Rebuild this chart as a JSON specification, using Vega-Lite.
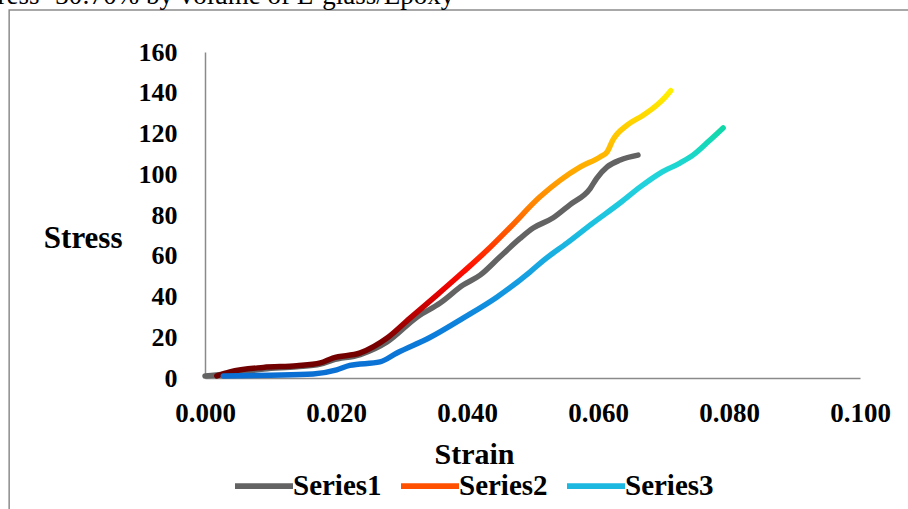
{
  "$schema": "https://vega.github.io/schema/vega-lite/v6.json",
  "width": 655,
  "height": 326,
  "autosize": {"type": "none"},
  "padding": {"left": 205, "top": 52, "right": 48, "bottom": 131},
  "background": "white",
  "config": {
    "view": {"stroke": null},
    "axis": {
      "grid": false,
      "ticks": false,
      "domainColor": "#8a8a8a",
      "domainWidth": 1.5,
      "labelFont": "Liberation Serif",
      "labelFontWeight": "bold",
      "labelColor": "black",
      "titleFont": "Liberation Serif",
      "titleFontWeight": "bold",
      "titleColor": "black",
      "titleFontSize": 30
    }
  },
  "data": {
    "values": [
      {"series": "Series1", "strain": 0.0, "stress": 1.0},
      {"series": "Series1", "strain": 0.003, "stress": 1.8},
      {"series": "Series1", "strain": 0.009, "stress": 4.4},
      {"series": "Series1", "strain": 0.014, "stress": 5.5},
      {"series": "Series1", "strain": 0.0176, "stress": 6.8},
      {"series": "Series1", "strain": 0.0195, "stress": 8.8},
      {"series": "Series1", "strain": 0.0237, "stress": 11.5},
      {"series": "Series1", "strain": 0.0278, "stress": 17.7},
      {"series": "Series1", "strain": 0.0324, "stress": 30.0},
      {"series": "Series1", "strain": 0.0359, "stress": 36.8},
      {"series": "Series1", "strain": 0.0394, "stress": 45.6},
      {"series": "Series1", "strain": 0.042, "stress": 50.5},
      {"series": "Series1", "strain": 0.045, "stress": 59.4},
      {"series": "Series1", "strain": 0.0481, "stress": 68.5},
      {"series": "Series1", "strain": 0.0501, "stress": 73.6},
      {"series": "Series1", "strain": 0.0531, "stress": 78.5},
      {"series": "Series1", "strain": 0.0557, "stress": 85.0},
      {"series": "Series1", "strain": 0.0588, "stress": 93.0},
      {"series": "Series1", "strain": 0.0598, "stress": 98.0},
      {"series": "Series1", "strain": 0.0614, "stress": 103.6},
      {"series": "Series1", "strain": 0.0634, "stress": 107.0},
      {"series": "Series1", "strain": 0.0661, "stress": 109.4},

      {"series": "Series2", "strain": 0.0018, "stress": 1.0},
      {"series": "Series2", "strain": 0.0038, "stress": 3.0},
      {"series": "Series2", "strain": 0.0089, "stress": 5.2},
      {"series": "Series2", "strain": 0.014, "stress": 6.0},
      {"series": "Series2", "strain": 0.0176, "stress": 7.4},
      {"series": "Series2", "strain": 0.0195, "stress": 9.8},
      {"series": "Series2", "strain": 0.0237, "stress": 12.3},
      {"series": "Series2", "strain": 0.0278, "stress": 19.6},
      {"series": "Series2", "strain": 0.0313, "stress": 29.4},
      {"series": "Series2", "strain": 0.0354, "stress": 40.7},
      {"series": "Series2", "strain": 0.0394, "stress": 52.0},
      {"series": "Series2", "strain": 0.0431, "stress": 62.8},
      {"series": "Series2", "strain": 0.0466, "stress": 74.0},
      {"series": "Series2", "strain": 0.0511, "stress": 88.8},
      {"series": "Series2", "strain": 0.0542, "stress": 97.0},
      {"series": "Series2", "strain": 0.0573, "stress": 103.6},
      {"series": "Series2", "strain": 0.0603, "stress": 108.5},
      {"series": "Series2", "strain": 0.0614, "stress": 111.0},
      {"series": "Series2", "strain": 0.0623, "stress": 117.0},
      {"series": "Series2", "strain": 0.0644, "stress": 124.0},
      {"series": "Series2", "strain": 0.0669, "stress": 129.0},
      {"series": "Series2", "strain": 0.069, "stress": 134.0},
      {"series": "Series2", "strain": 0.0703, "stress": 138.0},
      {"series": "Series2", "strain": 0.0711, "stress": 141.0},

      {"series": "Series3", "strain": 0.0028, "stress": 1.0},
      {"series": "Series3", "strain": 0.010, "stress": 1.4},
      {"series": "Series3", "strain": 0.0165, "stress": 2.0},
      {"series": "Series3", "strain": 0.0201, "stress": 4.0},
      {"series": "Series3", "strain": 0.0221, "stress": 6.2},
      {"series": "Series3", "strain": 0.0267, "stress": 7.9},
      {"series": "Series3", "strain": 0.0293, "stress": 12.3},
      {"series": "Series3", "strain": 0.0344, "stress": 20.0},
      {"series": "Series3", "strain": 0.0394, "stress": 29.4},
      {"series": "Series3", "strain": 0.0446, "stress": 39.8},
      {"series": "Series3", "strain": 0.0496, "stress": 52.0},
      {"series": "Series3", "strain": 0.0516, "stress": 57.5},
      {"series": "Series3", "strain": 0.0553, "stress": 66.3},
      {"series": "Series3", "strain": 0.0592, "stress": 76.0},
      {"series": "Series3", "strain": 0.0634, "stress": 86.0},
      {"series": "Series3", "strain": 0.0664, "stress": 93.7},
      {"series": "Series3", "strain": 0.0695, "stress": 100.6},
      {"series": "Series3", "strain": 0.0725, "stress": 105.5},
      {"series": "Series3", "strain": 0.0745, "stress": 109.4},
      {"series": "Series3", "strain": 0.0766, "stress": 115.3},
      {"series": "Series3", "strain": 0.0782, "stress": 120.0},
      {"series": "Series3", "strain": 0.0791, "stress": 122.7}
    ]
  },
  "encoding": {
    "x": {
      "field": "strain", "type": "quantitative",
      "scale": {"domain": [0, 0.1], "nice": false, "zero": false},
      "axis": {
        "title": "Strain",
        "values": [0, 0.02, 0.04, 0.06, 0.08, 0.1],
        "format": ".3f",
        "labelFontSize": 27,
        "labelPadding": 22,
        "labelFlush": false,
        "titleX": 269,
        "titleY": 85,
        "titleAlign": "center",
        "titleBaseline": "alphabetic"
      }
    },
    "y": {
      "field": "stress", "type": "quantitative",
      "scale": {"domain": [0, 160], "nice": false},
      "axis": {
        "title": "Stress",
        "values": [0, 20, 40, 60, 80, 100, 120, 140, 160],
        "labelFontSize": 26,
        "labelPadding": 28,
        "titleAngle": 0,
        "titleAlign": "right",
        "titleBaseline": "middle",
        "titleFontSize": 31,
        "titleX": -83,
        "titleY": 186
      }
    }
  },
  "layer": [
    {
      "data": {"values": [{"left": -0.0299, "right": 0.12, "top": 180.6, "bottom": -80}]},
      "mark": {"type": "rect", "fill": null, "stroke": "#8c8c8c", "strokeWidth": 1.5, "clip": false},
      "encoding": {
        "x": {"field": "left", "type": "quantitative"},
        "x2": {"field": "right"},
        "y": {"field": "top", "type": "quantitative"},
        "y2": {"field": "bottom"}
      }
    },
    {
      "data": {"values": [{"label": "Stress- 30:70% by volume of E-glass/Epoxy", "lx": -0.0351, "ly": 183.6}]},
      "mark": {"type": "text", "align": "left", "baseline": "alphabetic", "font": "Liberation Serif", "fontSize": 27, "fill": "black", "clip": false},
      "encoding": {
        "x": {"field": "lx", "type": "quantitative"},
        "y": {"field": "ly", "type": "quantitative"},
        "text": {"field": "label"}
      }
    },
    {
      "mark": {"type": "line", "strokeWidth": 5.5, "strokeOpacity": 0, "interpolate": "monotone"},
      "encoding": {
        "color": {
          "field": "series", "type": "nominal",
          "scale": {"domain": ["Series1", "Series2", "Series3"], "range": ["#636363", "#ff5000", "#1cb8e0"]},
          "legend": {
            "title": null,
            "orient": "none",
            "direction": "horizontal",
            "legendX": 30,
            "legendY": 405,
            "padding": 0,
            "symbolType": "M-1,-0.05L1,-0.05L1,0.05L-1,0.05Z",
            "symbolSize": 3025,
            "symbolStrokeWidth": 3,
            "labelFont": "Liberation Serif",
            "labelFontWeight": "bold",
            "labelFontSize": 29,
            "labelColor": "black",
            "labelOffset": 0,
            "columnPadding": 14,
            "labelLimit": 200,
            "encode": {
              "symbols": {
                "update": {
                  "strokeOpacity": {"value": 1},
                  "opacity": {"value": 1},
                  "stroke": {"signal": "datum.value == 'Series1' ? '#636363' : datum.value == 'Series2' ? {gradient: 'linear', x1: 0, y1: 1, x2: 0, y2: 0, stops: [{offset: 0, color: '#b00000'}, {offset: 0.35, color: '#ff2000'}, {offset: 0.65, color: '#ff9000'}, {offset: 1, color: '#ffe800'}]} : {gradient: 'linear', x1: 0, y1: 1, x2: 0, y2: 0, stops: [{offset: 0, color: '#0a6ed2'}, {offset: 0.5, color: '#18b0e2'}, {offset: 1, color: '#22d8d8'}]}"}
                }
              }
            }
          }
        }
      }
    },
    {
      "transform": [{"filter": "datum.series == 'Series1'"}],
      "mark": {"type": "line", "strokeWidth": 5.5, "strokeCap": "round", "strokeJoin": "round", "interpolate": "monotone", "stroke": "#636363"}
    },
    {
      "transform": [{"filter": "datum.series == 'Series2'"}],
      "mark": {"type": "line", "strokeWidth": 5.5, "strokeCap": "round", "strokeJoin": "round", "interpolate": "monotone",
        "stroke": {"gradient": "linear", "x1": 0, "y1": 1, "x2": 0, "y2": 0,
           "stops": [
             {"offset": 0, "color": "#6e0000"},
             {"offset": 0.12, "color": "#7a0000"},
             {"offset": 0.2, "color": "#b00000"},
             {"offset": 0.3, "color": "#e80000"},
             {"offset": 0.38, "color": "#ff1000"},
             {"offset": 0.48, "color": "#ff4a00"},
             {"offset": 0.6, "color": "#ff8400"},
             {"offset": 0.72, "color": "#ffaa00"},
             {"offset": 0.88, "color": "#ffd000"},
             {"offset": 1, "color": "#fff000"}
           ]}}
    },
    {
      "transform": [{"filter": "datum.series == 'Series3'"}],
      "mark": {"type": "line", "strokeWidth": 5.5, "strokeCap": "round", "strokeJoin": "round", "interpolate": "monotone",
        "stroke": {"gradient": "linear", "x1": 0, "y1": 1, "x2": 0, "y2": 0,
           "stops": [
             {"offset": 0, "color": "#0a6ed2"},
             {"offset": 0.2, "color": "#0c80dc"},
             {"offset": 0.4, "color": "#16a0e2"},
             {"offset": 0.6, "color": "#1cc0e0"},
             {"offset": 0.8, "color": "#22d4dc"},
             {"offset": 0.92, "color": "#18d8c0"},
             {"offset": 1, "color": "#10d8a8"}
           ]}}
    }
  ]
}
